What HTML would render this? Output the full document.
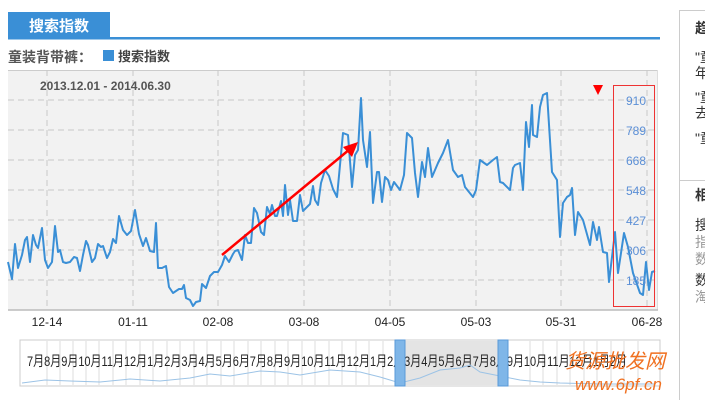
<!DOCTYPE html>
<html><head><meta charset="utf-8"><style>
body{margin:0;width:705px;height:402px;overflow:hidden;background:#fff;font-family:"Liberation Sans","Noto Sans CJK SC",sans-serif;}
</style></head><body>
<svg width="705" height="402" xmlns="http://www.w3.org/2000/svg" font-family="Liberation Sans, Noto Sans CJK SC, sans-serif">
<rect x="8" y="12" width="102" height="26" fill="#3a8fd6"/>
<text x="29" y="31" font-size="15" font-weight="bold" fill="#fff">搜索指数</text>
<rect x="8" y="37" width="652" height="2.5" fill="#3a8fd6"/>
<text x="8" y="62" font-size="14" font-weight="bold" fill="#555">童装背带裤：</text>
<rect x="103" y="50" width="11" height="11" fill="#3a8fd6"/>
<text x="118" y="61" font-size="13" font-weight="bold" fill="#444">搜索指数</text>
<rect x="8" y="70" width="650" height="240" fill="#f2f2f2"/>
<line x1="8" y1="70.5" x2="658" y2="70.5" stroke="#ccc"/>
<line x1="657.5" y1="70" x2="657.5" y2="310" stroke="#ddd"/>
<g stroke="#c8c8c8" stroke-dasharray="6,4">
<line x1="8" y1="100" x2="657" y2="100"/><line x1="8" y1="130" x2="657" y2="130"/><line x1="8" y1="160" x2="657" y2="160"/><line x1="8" y1="190" x2="657" y2="190"/><line x1="8" y1="220" x2="657" y2="220"/><line x1="8" y1="250" x2="657" y2="250"/><line x1="8" y1="280" x2="657" y2="280"/>
<line x1="47" y1="70" x2="47" y2="310"/><line x1="133" y1="70" x2="133" y2="310"/><line x1="218" y1="70" x2="218" y2="310"/><line x1="304" y1="70" x2="304" y2="310"/><line x1="390" y1="70" x2="390" y2="310"/><line x1="476" y1="70" x2="476" y2="310"/><line x1="561" y1="70" x2="561" y2="310"/><line x1="647" y1="70" x2="647" y2="310"/>
</g>
<line x1="8" y1="310" x2="658" y2="310" stroke="#bbb" stroke-width="1.5"/>
<text x="40" y="90" font-size="12" font-weight="bold" fill="#555">2013.12.01 - 2014.06.30</text>
<polyline fill="none" stroke="#3a8fd6" stroke-width="2" stroke-linejoin="round" points="8,262 12,279 15,244 18,268 22,255 25,240 27,237 30,262 33,235 36,245 38,248 42,228 45,260 48,268 52,262 55,226 58,252 60,250 63,262 66,263 70,262 74,257 77,258 80,271 83,255 86,241 88,245 92,262 95,258 98,244 101,247 103,246 107,258 110,252 113,239 116,243 119,216 123,230 127,235 131,231 135,210 139,234 143,246 146,238 150,251 154,252 156,223 158,268 162,268 166,266 169,287 173,293 176,291 179,289 182,289 184,285 186,298 190,300 193,306 196,302 200,301 202,284 206,288 210,276 214,272 218,272 222,265 225,256 229,262 233,254 235,251 238,250 242,260 245,235 248,243 251,243 254,208 257,213 261,232 264,235 267,207 270,214 272,205 275,216 277,216 281,201 283,216 285,185 288,215 290,200 293,221 297,221 300,195 303,211 306,208 310,204 313,186 315,200 318,205 321,183 325,170 329,176 333,189 337,197 343,133 348,135 352,187 355,155 358,150 361,98 363,140 367,167 370,132 373,203 377,172 379,172 382,202 385,177 388,180 391,190 394,182 400,190 404,175 407,133 412,138 415,173 418,197 422,162 425,177 428,148 432,177 438,163 443,153 448,140 453,170 458,177 462,175 465,187 469,192 473,197 476,190 480,160 487,165 493,160 497,157 500,182 503,183 510,190 513,168 515,165 520,163 523,190 526,122 529,147 532,105 533,135 537,137 540,107 543,95 547,93 552,172 557,180 560,237 563,203 567,197 570,195 572,188 575,235 578,212 583,220 590,245 593,222 597,240 599,227 603,252 607,253 609,282 615,232 618,273 624,233 628,247 633,273 640,293 643,295 646,262 649,290 652,272 655,271"/>
<line x1="222" y1="255" x2="350" y2="149" stroke="#f00" stroke-width="2.5"/>
<polygon points="358,142 343,147 352,157" fill="#f00"/>
<polygon points="593,85 603,85 598,95" fill="#f00"/>
<rect x="613.5" y="85.5" width="41" height="221" fill="none" stroke="#e33" stroke-width="1"/>
<g font-size="12" fill="#5b8fd6" text-anchor="end">
<text x="646" y="105">910</text><text x="646" y="135">789</text><text x="646" y="165">668</text><text x="646" y="195">548</text><text x="646" y="225">427</text><text x="646" y="255">306</text><text x="646" y="285">185</text>
</g>
<g font-size="12" fill="#222" text-anchor="middle">
<text x="47" y="326">12-14</text><text x="133" y="326">01-11</text><text x="218" y="326">02-08</text><text x="304" y="326">03-08</text><text x="390" y="326">04-05</text><text x="476" y="326">05-03</text><text x="561" y="326">05-31</text><text x="647" y="326">06-28</text>
</g>
<rect x="20" y="340" width="640" height="46" fill="#fff" stroke="#ccc"/>
<rect x="400" y="341" width="102" height="44" fill="#e4e4e4"/>
<g stroke="#ddd"><path d="M47 341V385M60 341V385M73 341V385M86 341V385M99 341V385M113 341V385M126 341V385M140 341V385M153 341V385M167 341V385M180 341V385M194 341V385M207 341V385M221 341V385M234 341V385M248 341V385M261 341V385M275 341V385M288 341V385M302 341V385M315 341V385M329 341V385M342 341V385M356 341V385M369 341V385M383 341V385M530 341V385M543 341V385M557 341V385M570 341V385M584 341V385M597 341V385M611 341V385M624 341V385M638 341V385"/></g>
<text x="27" y="366" font-size="14" fill="#222" textLength="600" lengthAdjust="spacingAndGlyphs">7月8月9月10月11月12月1月2月3月4月5月6月7月8月9月10月11月12月1月2月3月4月5月6月7月8月9月10月11月12月1月2月</text>
<polyline fill="none" stroke="#9cc3e6" stroke-width="1" points="22,383 45,380 70,381 100,382 130,379 160,381 190,378 210,374 230,376 260,371 280,372 300,375 330,370 360,372 380,377 400,383 420,378 440,370 460,368 470,365 480,372 500,376 520,380 540,382 560,383 600,384 655,384"/>
<rect x="395" y="340" width="10" height="46" fill="#7fb6e8" stroke="#5a9ad8"/>
<rect x="498" y="340" width="10" height="46" fill="#7fb6e8" stroke="#5a9ad8"/>
<text x="565" y="368" font-size="20" fill="#f07020" font-style="italic">货源批发网</text>
<text x="575" y="390" font-size="17" fill="#f07020" font-style="italic">www.6pf.cn</text>
<path d="M679.5 400V10.5H705" fill="none" stroke="#ccc"/>
<line x1="680" y1="180.5" x2="705" y2="180.5" stroke="#ccc"/>
<g font-size="14" fill="#333">
<text x="695" y="33" font-weight="bold">趋</text>
<text x="695" y="62">"童</text><text x="695" y="78">年</text>
<text x="695" y="102">"童</text><text x="695" y="118">去</text>
<text x="695" y="143">"童</text>
<text x="695" y="200" font-weight="bold">相</text>
<text x="695" y="230">搜</text>
<text x="695" y="247" fill="#999">指</text><text x="695" y="264" fill="#999">数</text>
<text x="695" y="285">数</text><text x="695" y="302" fill="#999">淘</text>
</g>
</svg>
</body></html>
